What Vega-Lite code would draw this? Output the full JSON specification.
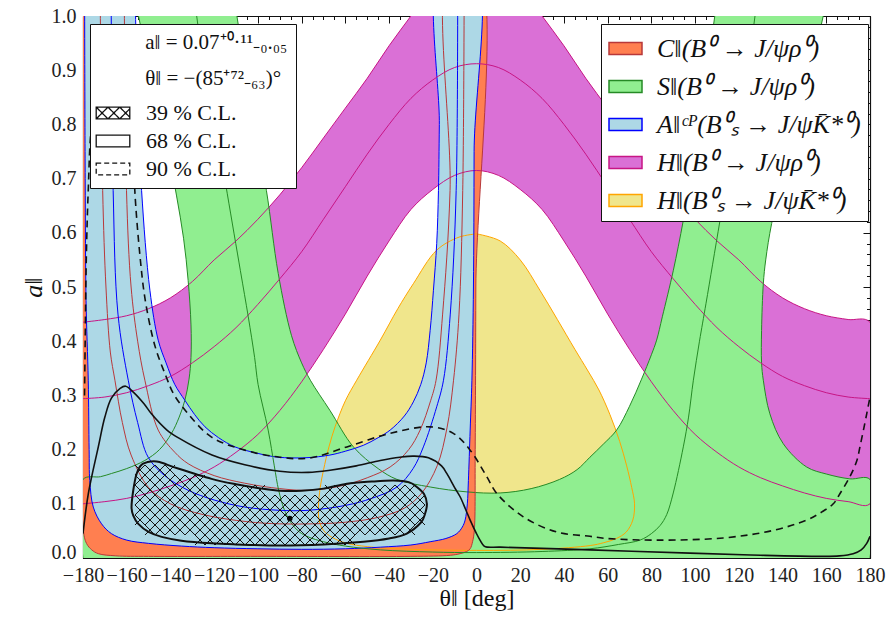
{
"$schema":"https://vega.github.io/schema/vega-lite/v6.json",
"width":787,"height":542,
"autosize":{"type":"none"},
"padding":{"left":83,"top":16,"right":25,"bottom":59},
"background":"white",
"config":{"font":"Liberation Serif","view":{"stroke":null},
"style":{"guide-label":{"font":"Liberation Serif","fontSize":20,"fill":"#222"},"guide-title":{"font":"Liberation Serif","fontSize":24,"fontWeight":"normal","fill":"#111"}},
"axis":{"grid":false,"zindex":1,"domainColor":"#111","tickColor":"#111","labelColor":"#222","labelFont":"Liberation Serif","labelFontSize":20,"titleFont":"Liberation Serif","titleColor":"#111","titleFontWeight":"normal","labelFlush":false,"labelOverlap":false,"domainWidth":1.2,"tickWidth":1}},
"datasets":{
"pH1":[{"i":0,"x":-180,"y":0.435},{"i":1,"x":-170,"y":0.44},{"i":2,"x":-160,"y":0.447},{"i":3,"x":-150,"y":0.46},{"i":4,"x":-140,"y":0.48},{"i":5,"x":-130,"y":0.51},{"i":6,"x":-120,"y":0.55},{"i":7,"x":-110,"y":0.585},{"i":8,"x":-100,"y":0.625},{"i":9,"x":-90,"y":0.67},{"i":10,"x":-80,"y":0.72},{"i":11,"x":-70,"y":0.775},{"i":12,"x":-60,"y":0.83},{"i":13,"x":-50,"y":0.885},{"i":14,"x":-40,"y":0.945},{"i":15,"x":-30,"y":1.0},{"i":16,"x":-20,"y":1.055},{"i":17,"x":-10,"y":1.095},{"i":18,"x":0,"y":1.11},{"i":19,"x":10,"y":1.095},{"i":20,"x":20,"y":1.055},{"i":21,"x":30,"y":1.0},{"i":22,"x":40,"y":0.945},{"i":23,"x":50,"y":0.885},{"i":24,"x":60,"y":0.83},{"i":25,"x":70,"y":0.775},{"i":26,"x":80,"y":0.72},{"i":27,"x":90,"y":0.67},{"i":28,"x":100,"y":0.625},{"i":29,"x":110,"y":0.585},{"i":30,"x":120,"y":0.55},{"i":31,"x":130,"y":0.51},{"i":32,"x":140,"y":0.48},{"i":33,"x":150,"y":0.46},{"i":34,"x":160,"y":0.447},{"i":35,"x":170,"y":0.44},{"i":36,"x":180,"y":0.435},{"i":37,"x":180,"y":0.1},{"i":38,"x":170,"y":0.104},{"i":39,"x":160,"y":0.11},{"i":40,"x":150,"y":0.12},{"i":41,"x":140,"y":0.133},{"i":42,"x":130,"y":0.148},{"i":43,"x":120,"y":0.168},{"i":44,"x":110,"y":0.195},{"i":45,"x":100,"y":0.228},{"i":46,"x":90,"y":0.272},{"i":47,"x":80,"y":0.325},{"i":48,"x":70,"y":0.385},{"i":49,"x":60,"y":0.45},{"i":50,"x":50,"y":0.52},{"i":51,"x":40,"y":0.585},{"i":52,"x":30,"y":0.643},{"i":53,"x":20,"y":0.68},{"i":54,"x":10,"y":0.706},{"i":55,"x":0,"y":0.715},{"i":56,"x":-10,"y":0.706},{"i":57,"x":-20,"y":0.68},{"i":58,"x":-30,"y":0.643},{"i":59,"x":-40,"y":0.585},{"i":60,"x":-50,"y":0.52},{"i":61,"x":-60,"y":0.45},{"i":62,"x":-70,"y":0.385},{"i":63,"x":-80,"y":0.325},{"i":64,"x":-90,"y":0.272},{"i":65,"x":-100,"y":0.228},{"i":66,"x":-110,"y":0.195},{"i":67,"x":-120,"y":0.168},{"i":68,"x":-130,"y":0.148},{"i":69,"x":-140,"y":0.133},{"i":70,"x":-150,"y":0.12},{"i":71,"x":-160,"y":0.11},{"i":72,"x":-170,"y":0.104},{"i":73,"x":-180,"y":0.1}],
"pH2":[{"i":0,"x":0.1,"y":0.598},{"i":1,"x":10.8,"y":0.585},{"i":2,"x":20,"y":0.55},{"i":3,"x":29,"y":0.494},{"i":4,"x":37,"y":0.44},{"i":5,"x":45,"y":0.385},{"i":6,"x":51,"y":0.345},{"i":7,"x":56,"y":0.31},{"i":8,"x":61,"y":0.265},{"i":9,"x":65.5,"y":0.215},{"i":10,"x":68.7,"y":0.17},{"i":11,"x":71,"y":0.13},{"i":12,"x":72.3,"y":0.1},{"i":13,"x":71.5,"y":0.07},{"i":14,"x":68.5,"y":0.048},{"i":15,"x":64,"y":0.036},{"i":16,"x":58,"y":0.028},{"i":17,"x":52,"y":0.023},{"i":18,"x":30,"y":0.016},{"i":19,"x":0,"y":0.014},{"i":20,"x":-36.4,"y":0.017},{"i":21,"x":-50,"y":0.021},{"i":22,"x":-59.3,"y":0.027},{"i":23,"x":-66,"y":0.038},{"i":24,"x":-70,"y":0.051},{"i":25,"x":-72,"y":0.07},{"i":26,"x":-72.3,"y":0.094},{"i":27,"x":-71.5,"y":0.13},{"i":28,"x":-70,"y":0.162},{"i":29,"x":-67.5,"y":0.205},{"i":30,"x":-64.7,"y":0.242},{"i":31,"x":-60,"y":0.29},{"i":32,"x":-54.8,"y":0.328},{"i":33,"x":-44,"y":0.402},{"i":34,"x":-36,"y":0.46},{"i":35,"x":-28.9,"y":0.506},{"i":36,"x":-18.2,"y":0.568},{"i":37,"x":-8,"y":0.592},{"i":38,"x":0.1,"y":0.598}],
"pS":[{"i":0,"x":-180,"y":0},{"i":1,"x":-180,"y":0.145},{"i":2,"x":-172,"y":0.15},{"i":3,"x":-166.9,"y":0.156},{"i":4,"x":-160,"y":0.165},{"i":5,"x":-151.7,"y":0.18},{"i":6,"x":-145,"y":0.2},{"i":7,"x":-139.5,"y":0.23},{"i":8,"x":-136,"y":0.26},{"i":9,"x":-133.4,"y":0.291},{"i":10,"x":-131.5,"y":0.33},{"i":11,"x":-130.6,"y":0.37},{"i":12,"x":-130.6,"y":0.43},{"i":13,"x":-131.9,"y":0.512},{"i":14,"x":-134,"y":0.59},{"i":15,"x":-137.2,"y":0.668},{"i":16,"x":-141,"y":0.75},{"i":17,"x":-146,"y":0.84},{"i":18,"x":-150,"y":0.91},{"i":19,"x":-154.6,"y":1.0},{"i":20,"x":-159.7,"y":1.1},{"i":21,"x":-113.5,"y":1.1},{"i":22,"x":-109.6,"y":1.0},{"i":23,"x":-103,"y":0.83},{"i":24,"x":-96.1,"y":0.678},{"i":25,"x":-90.7,"y":0.525},{"i":26,"x":-84.6,"y":0.41},{"i":27,"x":-80,"y":0.36},{"i":28,"x":-76,"y":0.328},{"i":29,"x":-67,"y":0.272},{"i":30,"x":-56.3,"y":0.205},{"i":31,"x":-45,"y":0.165},{"i":32,"x":-36.4,"y":0.145},{"i":33,"x":-21.2,"y":0.131},{"i":34,"x":-4.4,"y":0.122},{"i":35,"x":10.8,"y":0.12},{"i":36,"x":25,"y":0.128},{"i":37,"x":38,"y":0.145},{"i":38,"x":46,"y":0.163},{"i":39,"x":51.9,"y":0.186},{"i":40,"x":58,"y":0.21},{"i":41,"x":64.1,"y":0.236},{"i":42,"x":70,"y":0.28},{"i":43,"x":75.5,"y":0.33},{"i":44,"x":80,"y":0.375},{"i":45,"x":82.4,"y":0.402},{"i":46,"x":85,"y":0.445},{"i":47,"x":90,"y":0.53},{"i":48,"x":94.6,"y":0.623},{"i":49,"x":100,"y":0.75},{"i":50,"x":105,"y":0.88},{"i":51,"x":109,"y":1.0},{"i":52,"x":113,"y":1.1},{"i":53,"x":164,"y":1.1},{"i":54,"x":158.6,"y":1.0},{"i":55,"x":153,"y":0.9},{"i":56,"x":147,"y":0.81},{"i":57,"x":141,"y":0.72},{"i":58,"x":135,"y":0.617},{"i":59,"x":132.3,"y":0.55},{"i":60,"x":131.2,"y":0.506},{"i":61,"x":130.4,"y":0.42},{"i":62,"x":130.4,"y":0.36},{"i":63,"x":131.2,"y":0.328},{"i":64,"x":134.2,"y":0.266},{"i":65,"x":140.3,"y":0.211},{"i":66,"x":151,"y":0.168},{"i":67,"x":160,"y":0.155},{"i":68,"x":170.8,"y":0.146},{"i":69,"x":180,"y":0.145},{"i":70,"x":180,"y":0}],
"pC":[{"i":0,"x":-180,"y":1.1},{"i":1,"x":-180,"y":0.057},{"i":2,"x":-178.4,"y":0.027},{"i":3,"x":-176,"y":0.015},{"i":4,"x":-173,"y":0.008},{"i":5,"x":-165,"y":0.004},{"i":6,"x":-150,"y":0.003},{"i":7,"x":-100,"y":0.003},{"i":8,"x":-30,"y":0.003},{"i":9,"x":-12,"y":0.005},{"i":10,"x":-7.5,"y":0.008},{"i":11,"x":-4.5,"y":0.012},{"i":12,"x":-2.9,"y":0.017},{"i":13,"x":-1.8,"y":0.03},{"i":14,"x":-1,"y":0.051},{"i":15,"x":-0.6,"y":0.2},{"i":16,"x":-0.3,"y":0.5},{"i":17,"x":0.1,"y":1.1},{"i":18,"x":-11.8,"y":1.1},{"i":19,"x":-12.1,"y":0.678},{"i":20,"x":-15.5,"y":0.45},{"i":21,"x":-18.5,"y":0.328},{"i":22,"x":-21,"y":0.29},{"i":23,"x":-25.8,"y":0.236},{"i":24,"x":-31,"y":0.2},{"i":25,"x":-39.5,"y":0.168},{"i":26,"x":-50,"y":0.148},{"i":27,"x":-62,"y":0.133},{"i":28,"x":-77,"y":0.125},{"i":29,"x":-90,"y":0.128},{"i":30,"x":-106,"y":0.138},{"i":31,"x":-120,"y":0.152},{"i":32,"x":-131.9,"y":0.174},{"i":33,"x":-138,"y":0.195},{"i":34,"x":-145.6,"y":0.236},{"i":35,"x":-151.7,"y":0.328},{"i":36,"x":-155,"y":0.4},{"i":37,"x":-158,"y":0.5},{"i":38,"x":-160.1,"y":0.678},{"i":39,"x":-161.2,"y":1.1}],
"pA":[{"i":0,"x":-179.3,"y":1.1},{"i":1,"x":-179,"y":0.7},{"i":2,"x":-178.6,"y":0.475},{"i":3,"x":-177.6,"y":0.328},{"i":4,"x":-177.2,"y":0.2},{"i":5,"x":-176.9,"y":0.143},{"i":6,"x":-175.3,"y":0.094},{"i":7,"x":-171.5,"y":0.063},{"i":8,"x":-167,"y":0.045},{"i":9,"x":-160,"y":0.033},{"i":10,"x":-150,"y":0.027},{"i":11,"x":-135,"y":0.022},{"i":12,"x":-120,"y":0.019},{"i":13,"x":-100,"y":0.017},{"i":14,"x":-80,"y":0.016},{"i":15,"x":-60,"y":0.017},{"i":16,"x":-44,"y":0.02},{"i":17,"x":-30,"y":0.024},{"i":18,"x":-21.2,"y":0.03},{"i":19,"x":-14,"y":0.036},{"i":20,"x":-9,"y":0.045},{"i":21,"x":-6.5,"y":0.057},{"i":22,"x":-5.2,"y":0.07},{"i":23,"x":-4.2,"y":0.1},{"i":24,"x":-3.7,"y":0.143},{"i":25,"x":-2.9,"y":0.236},{"i":26,"x":-2.1,"y":0.328},{"i":27,"x":-1.4,"y":0.5},{"i":28,"x":-1.1,"y":0.75},{"i":29,"x":-1.0,"y":1.1},{"i":30,"x":-16.2,"y":1.1},{"i":31,"x":-17.0,"y":0.8},{"i":32,"x":-17.4,"y":0.678},{"i":33,"x":-18.2,"y":0.58},{"i":34,"x":-19.7,"y":0.494},{"i":35,"x":-21.2,"y":0.42},{"i":36,"x":-23,"y":0.36},{"i":37,"x":-25.5,"y":0.32},{"i":38,"x":-28.9,"y":0.288},{"i":39,"x":-33,"y":0.262},{"i":40,"x":-39.5,"y":0.236},{"i":41,"x":-45,"y":0.222},{"i":42,"x":-51.7,"y":0.208},{"i":43,"x":-60,"y":0.197},{"i":44,"x":-67,"y":0.19},{"i":45,"x":-78,"y":0.185},{"i":46,"x":-90.8,"y":0.186},{"i":47,"x":-100,"y":0.193},{"i":48,"x":-110.5,"y":0.205},{"i":49,"x":-118,"y":0.222},{"i":50,"x":-124.2,"y":0.242},{"i":51,"x":-129,"y":0.265},{"i":52,"x":-133.4,"y":0.291},{"i":53,"x":-138,"y":0.32},{"i":54,"x":-142,"y":0.36},{"i":55,"x":-145.6,"y":0.402},{"i":56,"x":-149.4,"y":0.494},{"i":57,"x":-153.2,"y":0.678},{"i":58,"x":-155,"y":0.85},{"i":59,"x":-156.5,"y":1.1}],
"cH1":[{"i":0,"x":-180,"y":0.294},{"i":1,"x":-170,"y":0.297},{"i":2,"x":-160,"y":0.305},{"i":3,"x":-150,"y":0.318},{"i":4,"x":-140,"y":0.335},{"i":5,"x":-130,"y":0.36},{"i":6,"x":-120,"y":0.39},{"i":7,"x":-110,"y":0.425},{"i":8,"x":-100,"y":0.468},{"i":9,"x":-90,"y":0.515},{"i":10,"x":-80,"y":0.565},{"i":11,"x":-70,"y":0.625},{"i":12,"x":-60,"y":0.685},{"i":13,"x":-50,"y":0.745},{"i":14,"x":-40,"y":0.8},{"i":15,"x":-30,"y":0.848},{"i":16,"x":-20,"y":0.882},{"i":17,"x":-10,"y":0.905},{"i":18,"x":0,"y":0.912},{"i":19,"x":10,"y":0.905},{"i":20,"x":20,"y":0.882},{"i":21,"x":30,"y":0.848},{"i":22,"x":40,"y":0.8},{"i":23,"x":50,"y":0.745},{"i":24,"x":60,"y":0.685},{"i":25,"x":70,"y":0.625},{"i":26,"x":80,"y":0.565},{"i":27,"x":90,"y":0.515},{"i":28,"x":100,"y":0.468},{"i":29,"x":110,"y":0.425},{"i":30,"x":120,"y":0.39},{"i":31,"x":130,"y":0.36},{"i":32,"x":140,"y":0.335},{"i":33,"x":150,"y":0.318},{"i":34,"x":160,"y":0.305},{"i":35,"x":170,"y":0.297},{"i":36,"x":180,"y":0.294}],
"cS":[{"i":0,"x":-129.5,"y":1.1},{"i":1,"x":-128,"y":1.0},{"i":2,"x":-121,"y":0.84},{"i":3,"x":-114,"y":0.672},{"i":4,"x":-108,"y":0.53},{"i":5,"x":-104.4,"y":0.445},{"i":6,"x":-101.5,"y":0.37},{"i":7,"x":-99.9,"y":0.32},{"i":8,"x":-95.3,"y":0.236},{"i":9,"x":-92.5,"y":0.17},{"i":10,"x":-90.5,"y":0.125},{"i":11,"x":-88,"y":0.09},{"i":12,"x":-85,"y":0.066},{"i":13,"x":-81,"y":0.048},{"i":14,"x":-77,"y":0.039},{"i":15,"x":-70,"y":0.03},{"i":16,"x":-60,"y":0.022},{"i":17,"x":-44,"y":0.015},{"i":18,"x":-20,"y":0.011},{"i":19,"x":0,"y":0.01},{"i":20,"x":30,"y":0.012},{"i":21,"x":51.9,"y":0.017},{"i":22,"x":65,"y":0.025},{"i":23,"x":74.8,"y":0.033},{"i":24,"x":80,"y":0.045},{"i":25,"x":84,"y":0.06},{"i":26,"x":87,"y":0.08},{"i":27,"x":90,"y":0.12},{"i":28,"x":94.6,"y":0.205},{"i":29,"x":97,"y":0.26},{"i":30,"x":99.2,"y":0.328},{"i":31,"x":102,"y":0.4},{"i":32,"x":105,"y":0.47},{"i":33,"x":111.4,"y":0.623},{"i":34,"x":119,"y":0.8},{"i":35,"x":127.4,"y":1.0},{"i":36,"x":129,"y":1.1}],
"cA":[{"i":0,"x":-167.2,"y":1.1},{"i":1,"x":-166.2,"y":0.678},{"i":2,"x":-164,"y":0.45},{"i":3,"x":-159.3,"y":0.328},{"i":4,"x":-155,"y":0.25},{"i":5,"x":-150.2,"y":0.186},{"i":6,"x":-142,"y":0.15},{"i":7,"x":-131.9,"y":0.125},{"i":8,"x":-120,"y":0.107},{"i":9,"x":-106,"y":0.094},{"i":10,"x":-90,"y":0.088},{"i":11,"x":-77,"y":0.088},{"i":12,"x":-60,"y":0.097},{"i":13,"x":-48,"y":0.11},{"i":14,"x":-36.4,"y":0.131},{"i":15,"x":-29,"y":0.165},{"i":16,"x":-24.3,"y":0.205},{"i":17,"x":-18.2,"y":0.279},{"i":18,"x":-15.1,"y":0.328},{"i":19,"x":-12,"y":0.45},{"i":20,"x":-9.3,"y":0.678},{"i":21,"x":-8.6,"y":1.1}],
"cC":[{"i":0,"x":-172.3,"y":1.1},{"i":1,"x":-171,"y":0.678},{"i":2,"x":-169.5,"y":0.5},{"i":3,"x":-167.5,"y":0.38},{"i":4,"x":-165.4,"y":0.328},{"i":5,"x":-162,"y":0.25},{"i":6,"x":-158,"y":0.19},{"i":7,"x":-150,"y":0.13},{"i":8,"x":-140,"y":0.1},{"i":9,"x":-125,"y":0.08},{"i":10,"x":-105,"y":0.067},{"i":11,"x":-90,"y":0.063},{"i":12,"x":-75,"y":0.063},{"i":13,"x":-60,"y":0.066},{"i":14,"x":-45,"y":0.075},{"i":15,"x":-33,"y":0.092},{"i":16,"x":-25,"y":0.12},{"i":17,"x":-18,"y":0.17},{"i":18,"x":-13.5,"y":0.24},{"i":19,"x":-10.5,"y":0.328},{"i":20,"x":-8,"y":0.45},{"i":21,"x":-6.3,"y":0.678},{"i":22,"x":-5.6,"y":1.1}],
"k68":[{"i":0,"x":-180,"y":0.045},{"i":1,"x":-177.5,"y":0.12},{"i":2,"x":-173,"y":0.205},{"i":3,"x":-170,"y":0.26},{"i":4,"x":-167,"y":0.295},{"i":5,"x":-163,"y":0.313},{"i":6,"x":-160.5,"y":0.317},{"i":7,"x":-157,"y":0.306},{"i":8,"x":-152,"y":0.284},{"i":9,"x":-148.7,"y":0.266},{"i":10,"x":-141.6,"y":0.236},{"i":11,"x":-136.5,"y":0.222},{"i":12,"x":-121,"y":0.19},{"i":13,"x":-106,"y":0.172},{"i":14,"x":-90,"y":0.16},{"i":15,"x":-77,"y":0.158},{"i":16,"x":-67,"y":0.162},{"i":17,"x":-55,"y":0.17},{"i":18,"x":-44,"y":0.18},{"i":19,"x":-35,"y":0.186},{"i":20,"x":-28.9,"y":0.188},{"i":21,"x":-22,"y":0.185},{"i":22,"x":-16,"y":0.17},{"i":23,"x":-13.6,"y":0.156},{"i":24,"x":-10,"y":0.13},{"i":25,"x":-7.5,"y":0.113},{"i":26,"x":-5,"y":0.09},{"i":27,"x":-2.9,"y":0.07},{"i":28,"x":0,"y":0.045},{"i":29,"x":1.6,"y":0.033},{"i":30,"x":3.5,"y":0.022},{"i":31,"x":5,"y":0.02},{"i":32,"x":10.8,"y":0.02},{"i":33,"x":51.9,"y":0.015},{"i":34,"x":97.6,"y":0.009},{"i":35,"x":130,"y":0.005},{"i":36,"x":158.6,"y":0.003},{"i":37,"x":166,"y":0.004},{"i":38,"x":172.3,"y":0.008},{"i":39,"x":176,"y":0.015},{"i":40,"x":178.5,"y":0.027},{"i":41,"x":180,"y":0.04}],
"k90":[{"i":0,"x":-179.3,"y":0.3},{"i":1,"x":-179,"y":0.4},{"i":2,"x":-178.5,"y":0.55},{"i":3,"x":-177.6,"y":0.678},{"i":4,"x":-176,"y":0.8},{"i":5,"x":-172,"y":0.88},{"i":6,"x":-165,"y":0.9},{"i":7,"x":-159,"y":0.85},{"i":8,"x":-157,"y":0.77},{"i":9,"x":-156.3,"y":0.678},{"i":10,"x":-154,"y":0.56},{"i":11,"x":-151.5,"y":0.475},{"i":12,"x":-147,"y":0.39},{"i":13,"x":-142,"y":0.335},{"i":14,"x":-138.6,"y":0.303},{"i":15,"x":-131.9,"y":0.266},{"i":16,"x":-121.2,"y":0.223},{"i":17,"x":-106,"y":0.199},{"i":18,"x":-90,"y":0.186},{"i":19,"x":-77,"y":0.184},{"i":20,"x":-59.3,"y":0.205},{"i":21,"x":-39.5,"y":0.23},{"i":22,"x":-21.2,"y":0.242},{"i":23,"x":-10.6,"y":0.23},{"i":24,"x":-2.9,"y":0.199},{"i":25,"x":4.7,"y":0.15},{"i":26,"x":9.3,"y":0.119},{"i":27,"x":21.4,"y":0.076},{"i":28,"x":36.7,"y":0.048},{"i":29,"x":51.9,"y":0.04},{"i":30,"x":59.6,"y":0.036},{"i":31,"x":82.4,"y":0.033},{"i":32,"x":112.9,"y":0.037},{"i":33,"x":135.8,"y":0.051},{"i":34,"x":151,"y":0.07},{"i":35,"x":158,"y":0.085},{"i":36,"x":163.2,"y":0.1},{"i":37,"x":166.3,"y":0.119},{"i":38,"x":170.8,"y":0.15},{"i":39,"x":174,"y":0.18},{"i":40,"x":175.4,"y":0.205},{"i":41,"x":178.5,"y":0.266},{"i":42,"x":180,"y":0.297}],
"k39":[{"i":0,"x":-157.8,"y":0.094},{"i":1,"x":-157,"y":0.125},{"i":2,"x":-155.5,"y":0.155},{"i":3,"x":-153.2,"y":0.172},{"i":4,"x":-149,"y":0.178},{"i":5,"x":-145,"y":0.177},{"i":6,"x":-136.5,"y":0.165},{"i":7,"x":-121.2,"y":0.146},{"i":8,"x":-110,"y":0.136},{"i":9,"x":-98.3,"y":0.128},{"i":10,"x":-89.8,"y":0.124},{"i":11,"x":-80,"y":0.124},{"i":12,"x":-70,"y":0.128},{"i":13,"x":-59.3,"y":0.137},{"i":14,"x":-48,"y":0.141},{"i":15,"x":-38,"y":0.143},{"i":16,"x":-31,"y":0.14},{"i":17,"x":-27.3,"y":0.131},{"i":18,"x":-24,"y":0.118},{"i":19,"x":-22.7,"y":0.1},{"i":20,"x":-23.5,"y":0.082},{"i":21,"x":-25.5,"y":0.065},{"i":22,"x":-31.9,"y":0.045},{"i":23,"x":-40,"y":0.036},{"i":24,"x":-51.7,"y":0.03},{"i":25,"x":-70,"y":0.025},{"i":26,"x":-89.8,"y":0.023},{"i":27,"x":-110,"y":0.025},{"i":28,"x":-121.2,"y":0.027},{"i":29,"x":-135,"y":0.032},{"i":30,"x":-144,"y":0.039},{"i":31,"x":-150,"y":0.048},{"i":32,"x":-154.7,"y":0.063},{"i":33,"x":-157,"y":0.078}],
"hatch":[
{"x":-153.93,"y":0.1624},{"x":-153.93,"y":0.1439},{"x":-153.93,"y":0.1255},{"x":-153.93,"y":0.107},{"x":-153.93,"y":0.0886},{"x":-153.93,"y":0.0701},
{"x":-149.35,"y":0.1624},{"x":-149.35,"y":0.1439},{"x":-149.35,"y":0.1255},{"x":-149.35,"y":0.107},{"x":-149.35,"y":0.0886},{"x":-149.35,"y":0.0701},{"x":-149.35,"y":0.0517},
{"x":-144.78,"y":0.1624},{"x":-144.78,"y":0.1439},{"x":-144.78,"y":0.1255},{"x":-144.78,"y":0.107},{"x":-144.78,"y":0.0886},{"x":-144.78,"y":0.0701},{"x":-144.78,"y":0.0517},
{"x":-140.2,"y":0.1624},{"x":-140.2,"y":0.1439},{"x":-140.2,"y":0.1255},{"x":-140.2,"y":0.107},{"x":-140.2,"y":0.0886},{"x":-140.2,"y":0.0701},{"x":-140.2,"y":0.0517},
{"x":-135.63,"y":0.1439},{"x":-135.63,"y":0.1255},{"x":-135.63,"y":0.107},{"x":-135.63,"y":0.0886},{"x":-135.63,"y":0.0701},{"x":-135.63,"y":0.0517},
{"x":-131.05,"y":0.1439},{"x":-131.05,"y":0.1255},{"x":-131.05,"y":0.107},{"x":-131.05,"y":0.0886},{"x":-131.05,"y":0.0701},{"x":-131.05,"y":0.0517},
{"x":-126.48,"y":0.1439},{"x":-126.48,"y":0.1255},{"x":-126.48,"y":0.107},{"x":-126.48,"y":0.0886},{"x":-126.48,"y":0.0701},{"x":-126.48,"y":0.0517},{"x":-126.48,"y":0.0332},
{"x":-121.91,"y":0.1255},{"x":-121.91,"y":0.107},{"x":-121.91,"y":0.0886},{"x":-121.91,"y":0.0701},{"x":-121.91,"y":0.0517},{"x":-121.91,"y":0.0332},
{"x":-117.33,"y":0.1255},{"x":-117.33,"y":0.107},{"x":-117.33,"y":0.0886},{"x":-117.33,"y":0.0701},{"x":-117.33,"y":0.0517},{"x":-117.33,"y":0.0332},
{"x":-112.76,"y":0.1255},{"x":-112.76,"y":0.107},{"x":-112.76,"y":0.0886},{"x":-112.76,"y":0.0701},{"x":-112.76,"y":0.0517},{"x":-112.76,"y":0.0332},
{"x":-108.18,"y":0.1255},{"x":-108.18,"y":0.107},{"x":-108.18,"y":0.0886},{"x":-108.18,"y":0.0701},{"x":-108.18,"y":0.0517},{"x":-108.18,"y":0.0332},
{"x":-103.61,"y":0.1255},{"x":-103.61,"y":0.107},{"x":-103.61,"y":0.0886},{"x":-103.61,"y":0.0701},{"x":-103.61,"y":0.0517},{"x":-103.61,"y":0.0332},
{"x":-99.03,"y":0.1255},{"x":-99.03,"y":0.107},{"x":-99.03,"y":0.0886},{"x":-99.03,"y":0.0701},{"x":-99.03,"y":0.0517},{"x":-99.03,"y":0.0332},
{"x":-94.46,"y":0.107},{"x":-94.46,"y":0.0886},{"x":-94.46,"y":0.0701},{"x":-94.46,"y":0.0517},{"x":-94.46,"y":0.0332},
{"x":-89.89,"y":0.107},{"x":-89.89,"y":0.0886},{"x":-89.89,"y":0.0701},{"x":-89.89,"y":0.0517},{"x":-89.89,"y":0.0332},
{"x":-85.31,"y":0.107},{"x":-85.31,"y":0.0886},{"x":-85.31,"y":0.0701},{"x":-85.31,"y":0.0517},{"x":-85.31,"y":0.0332},
{"x":-80.74,"y":0.107},{"x":-80.74,"y":0.0886},{"x":-80.74,"y":0.0701},{"x":-80.74,"y":0.0517},{"x":-80.74,"y":0.0332},
{"x":-76.16,"y":0.107},{"x":-76.16,"y":0.0886},{"x":-76.16,"y":0.0701},{"x":-76.16,"y":0.0517},{"x":-76.16,"y":0.0332},
{"x":-71.59,"y":0.107},{"x":-71.59,"y":0.0886},{"x":-71.59,"y":0.0701},{"x":-71.59,"y":0.0517},{"x":-71.59,"y":0.0332},
{"x":-67.01,"y":0.1255},{"x":-67.01,"y":0.107},{"x":-67.01,"y":0.0886},{"x":-67.01,"y":0.0701},{"x":-67.01,"y":0.0517},{"x":-67.01,"y":0.0332},
{"x":-62.44,"y":0.1255},{"x":-62.44,"y":0.107},{"x":-62.44,"y":0.0886},{"x":-62.44,"y":0.0701},{"x":-62.44,"y":0.0517},{"x":-62.44,"y":0.0332},
{"x":-57.87,"y":0.1255},{"x":-57.87,"y":0.107},{"x":-57.87,"y":0.0886},{"x":-57.87,"y":0.0701},{"x":-57.87,"y":0.0517},{"x":-57.87,"y":0.0332},
{"x":-53.29,"y":0.1255},{"x":-53.29,"y":0.107},{"x":-53.29,"y":0.0886},{"x":-53.29,"y":0.0701},{"x":-53.29,"y":0.0517},
{"x":-48.72,"y":0.1255},{"x":-48.72,"y":0.107},{"x":-48.72,"y":0.0886},{"x":-48.72,"y":0.0701},{"x":-48.72,"y":0.0517},
{"x":-44.14,"y":0.1255},{"x":-44.14,"y":0.107},{"x":-44.14,"y":0.0886},{"x":-44.14,"y":0.0701},{"x":-44.14,"y":0.0517},
{"x":-39.57,"y":0.1255},{"x":-39.57,"y":0.107},{"x":-39.57,"y":0.0886},{"x":-39.57,"y":0.0701},{"x":-39.57,"y":0.0517},
{"x":-34.99,"y":0.1255},{"x":-34.99,"y":0.107},{"x":-34.99,"y":0.0886},{"x":-34.99,"y":0.0701},{"x":-34.99,"y":0.0517},
{"x":-30.42,"y":0.1255},{"x":-30.42,"y":0.107},{"x":-30.42,"y":0.0886},{"x":-30.42,"y":0.0701},{"x":-30.42,"y":0.0517},
{"x":-25.85,"y":0.107},{"x":-25.85,"y":0.0886},{"x":-25.85,"y":0.0701}],
"best":[{"x":-85.4,"y":0.073}],
"legR":[{"lbl":"C‖(B⁰ → J/ψρ⁰)"},{"lbl":"S‖(B⁰ → J/ψρ⁰)"},{"lbl":"A‖ᶜᴾ(B⁰ₛ → J/ψK̄*⁰)"},{"lbl":"H‖(B⁰ → J/ψρ⁰)"},{"lbl":"H‖(B⁰ₛ → J/ψK̄*⁰)"}],
"legL":[{"cl":"39 % C.L."},{"cl":"68 % C.L."},{"cl":"90 % C.L."}]
},
"encoding":{
"x":{"field":"x","type":"quantitative","scale":{"domain":[-180,180],"nice":false,"zero":false},"axis":null},
"y":{"field":"y","type":"quantitative","scale":{"domain":[0,1],"nice":false,"zero":false},"axis":null},
"order":{"field":"i","type":"quantitative"}
},
"resolve":{"axis":{"x":"independent","y":"independent"}},
"layer":[
{"data":{"name":"pH1"},"mark":{"type":"line","fill":"#DA70D6","stroke":"transparent","strokeWidth":0,"interpolate":"catmull-rom","clip":true},
"encoding":{
"x":{"field":"x","type":"quantitative","scale":{"domain":[-180,180],"nice":false,"zero":false},"axis":{"orient":"bottom","values":[-180,-160,-140,-120,-100,-80,-60,-40,-20,0,20,40,60,80,100,120,140,160,180],"tickSize":-7,"labelPadding":14,"labelFont":"Liberation Serif","labelFontSize":20,"labelColor":"#222","labelExpr":"replace(format(datum.value,'d'),'-','−')","title":"θ‖ [deg]","titleFont":"Liberation Serif","titleFontSize":24,"titleFontWeight":"normal","titlePadding":1,"domain":true}},
"y":{"field":"y","type":"quantitative","scale":{"domain":[0,1],"nice":false,"zero":false},"axis":{"orient":"left","values":[0,0.1,0.2,0.3,0.4,0.5,0.6,0.7,0.8,0.9,1],"format":".1f","tickSize":-7,"labelPadding":14,"labelBaseline":{"condition":{"test":"datum.value === 0","value":"alphabetic"},"value":"middle"},"labelFont":"Liberation Serif","labelFontSize":20,"labelColor":"#222","title":"a‖","titleFont":"Liberation Serif","titleFontSize":26,"titleFontWeight":"normal","titleFontStyle":"italic","titlePadding":5,"domain":true}}}},
{"data":{"name":"pH2"},"mark":{"type":"line","fill":"#F0E68C","stroke":"transparent","strokeWidth":0,"interpolate":"catmull-rom","clip":true},
"encoding":{
"x":{"field":"x","type":"quantitative","scale":{"domain":[-180,180],"nice":false,"zero":false},"axis":{"orient":"bottom","values":[-180,-175,-170,-165,-160,-155,-150,-145,-140,-135,-130,-125,-120,-115,-110,-105,-100,-95,-90,-85,-80,-75,-70,-65,-60,-55,-50,-45,-40,-35,-30,-25,-20,-15,-10,-5,0,5,10,15,20,25,30,35,40,45,50,55,60,65,70,75,80,85,90,95,100,105,110,115,120,125,130,135,140,145,150,155,160,165,170,175,180],"tickSize":-3.5,"labels":false,"domain":false,"title":null}},
"y":{"field":"y","type":"quantitative","scale":{"domain":[0,1],"nice":false,"zero":false},"axis":{"orient":"left","values":[0,0.02,0.04,0.06,0.08,0.1,0.12,0.14,0.16,0.18,0.2,0.22,0.24,0.26,0.28,0.3,0.32,0.34,0.36,0.38,0.4,0.42,0.44,0.46,0.48,0.5,0.52,0.54,0.56,0.58,0.6,0.62,0.64,0.66,0.68,0.7,0.72,0.74,0.76,0.78,0.8,0.82,0.84,0.86,0.88,0.9,0.92,0.94,0.96,0.98,1],"tickSize":-3.5,"labels":false,"domain":false,"title":null}}}},
{"data":{"name":"pS"},"mark":{"type":"line","fill":"#90EE90","stroke":"transparent","strokeWidth":0,"interpolate":"catmull-rom","clip":true},
"encoding":{
"x":{"field":"x","type":"quantitative","scale":{"domain":[-180,180],"nice":false,"zero":false},"axis":{"orient":"top","values":[-180,-160,-140,-120,-100,-80,-60,-40,-20,0,20,40,60,80,100,120,140,160,180],"tickSize":-7,"labels":false,"domain":true,"title":null}},
"y":{"field":"y","type":"quantitative","scale":{"domain":[0,1],"nice":false,"zero":false},"axis":{"orient":"right","values":[0,0.1,0.2,0.3,0.4,0.5,0.6,0.7,0.8,0.9,1],"tickSize":-7,"labels":false,"domain":true,"title":null}}}},
{"data":{"name":"pC"},"mark":{"type":"line","fill":"#FF7F50","stroke":"transparent","strokeWidth":0,"interpolate":"catmull-rom","clip":true},
"encoding":{
"x":{"field":"x","type":"quantitative","scale":{"domain":[-180,180],"nice":false,"zero":false},"axis":{"orient":"top","values":[-180,-175,-170,-165,-160,-155,-150,-145,-140,-135,-130,-125,-120,-115,-110,-105,-100,-95,-90,-85,-80,-75,-70,-65,-60,-55,-50,-45,-40,-35,-30,-25,-20,-15,-10,-5,0,5,10,15,20,25,30,35,40,45,50,55,60,65,70,75,80,85,90,95,100,105,110,115,120,125,130,135,140,145,150,155,160,165,170,175,180],"tickSize":-3.5,"labels":false,"domain":false,"title":null}},
"y":{"field":"y","type":"quantitative","scale":{"domain":[0,1],"nice":false,"zero":false},"axis":{"orient":"right","values":[0,0.02,0.04,0.06,0.08,0.1,0.12,0.14,0.16,0.18,0.2,0.22,0.24,0.26,0.28,0.3,0.32,0.34,0.36,0.38,0.4,0.42,0.44,0.46,0.48,0.5,0.52,0.54,0.56,0.58,0.6,0.62,0.64,0.66,0.68,0.7,0.72,0.74,0.76,0.78,0.8,0.82,0.84,0.86,0.88,0.9,0.92,0.94,0.96,0.98,1],"tickSize":-3.5,"labels":false,"domain":false,"title":null}}}},
{"data":{"name":"pA"},"mark":{"type":"line","fill":"#ADD8E6","stroke":"transparent","strokeWidth":0,"interpolate":"catmull-rom","clip":true}},
{"data":{"name":"pH1"},"mark":{"type":"line","stroke":"#C71585","strokeWidth":1,"interpolate":"catmull-rom","clip":true}},
{"data":{"name":"pH2"},"mark":{"type":"line","stroke":"#FFA500","strokeWidth":1,"interpolate":"catmull-rom","clip":true}},
{"data":{"name":"pS"},"mark":{"type":"line","stroke":"#258A25","strokeWidth":1,"interpolate":"catmull-rom","clip":true}},
{"data":{"name":"pC"},"mark":{"type":"line","stroke":"#B8383A","strokeWidth":1,"interpolate":"catmull-rom","clip":true}},
{"data":{"name":"pA"},"mark":{"type":"line","stroke":"#0000FF","strokeWidth":1,"interpolate":"catmull-rom","clip":true}},
{"data":{"name":"cH1"},"mark":{"type":"line","stroke":"#C71585","strokeWidth":1,"interpolate":"catmull-rom","clip":true}},
{"data":{"name":"cS"},"mark":{"type":"line","stroke":"#258A25","strokeWidth":1,"interpolate":"catmull-rom","clip":true}},
{"data":{"name":"cA"},"mark":{"type":"line","stroke":"#0000FF","strokeWidth":1,"interpolate":"catmull-rom","clip":true}},
{"data":{"name":"cC"},"mark":{"type":"line","stroke":"#B8383A","strokeWidth":1,"interpolate":"catmull-rom","clip":true}},
{"data":{"name":"hatch"},"mark":{"type":"point","shape":"M-1,-1L1,1M-1,1L1,-1","size":100,"filled":false,"stroke":"#111","strokeWidth":1,"opacity":1,"clip":true},"encoding":{"order":null}},
{"data":{"name":"k39"},"mark":{"type":"line","stroke":"#111","strokeWidth":2,"interpolate":"cardinal-closed","clip":true}},
{"data":{"name":"k68"},"mark":{"type":"line","stroke":"#111","strokeWidth":1.6,"interpolate":"catmull-rom","clip":true}},
{"data":{"name":"k90"},"mark":{"type":"line","stroke":"#111","strokeWidth":1.6,"strokeDash":[7,5],"interpolate":"catmull-rom","clip":true}},
{"data":{"name":"best"},"mark":{"type":"point","shape":"circle","size":30,"filled":true,"color":"#000","opacity":1},"encoding":{"order":null}},
{"data":{"values":[{}]},"mark":{"type":"text","text":["LHCb","preliminary"],"font":"Liberation Serif","fontSize":31,"fontWeight":"bold","align":"left","baseline":"alphabetic","lineHeight":35,"color":"#000"},
"encoding":{"order":null,"x":{"datum":-80.5,"type":"quantitative","scale":{"domain":[-180,180],"nice":false,"zero":false},"axis":null},"y":{"datum":0.942,"type":"quantitative","scale":{"domain":[0,1],"nice":false,"zero":false},"axis":null}}},
{"data":{"name":"legR"},"mark":{"type":"point","shape":"M-1,-0.36H1V0.36H-1Z","filled":true,"size":1089,"opacity":1,"strokeWidth":1.5,"clip":true},
"encoding":{"order":null,
"x":{"datum":-400,"type":"quantitative","scale":{"domain":[-180,180],"nice":false,"zero":false},"axis":null},
"y":{"datum":0.5,"type":"quantitative","scale":{"domain":[0,1],"nice":false,"zero":false},"axis":null},
"fill":{"field":"lbl","type":"nominal","scale":{"domain":["C‖(B⁰ → J/ψρ⁰)","S‖(B⁰ → J/ψρ⁰)","A‖ᶜᴾ(B⁰ₛ → J/ψK̄*⁰)","H‖(B⁰ → J/ψρ⁰)","H‖(B⁰ₛ → J/ψK̄*⁰)"],"range":["#FF7F50","#90EE90","#ADD8E6","#DA70D6","#F0E68C"]},
"legend":{"title":null,"orient":"none","legendX":518,"legendY":8,"direction":"vertical","padding":7,"fillColor":"white","strokeColor":"#111","cornerRadius":0,"symbolType":"M-1,-0.36H1V0.36H-1Z","symbolSize":1089,"symbolStrokeWidth":1.5,"symbolOpacity":1,"labelFont":"Liberation Serif","labelFontSize":26,"labelFontStyle":"italic","labelColor":"#111","labelOffset":14,"labelLimit":400,"rowPadding":7}},
"stroke":{"field":"lbl","type":"nominal","scale":{"domain":["C‖(B⁰ → J/ψρ⁰)","S‖(B⁰ → J/ψρ⁰)","A‖ᶜᴾ(B⁰ₛ → J/ψK̄*⁰)","H‖(B⁰ → J/ψρ⁰)","H‖(B⁰ₛ → J/ψK̄*⁰)"],"range":["#B8383A","#258A25","#0000FF","#C71585","#FFA500"]},
"legend":{"title":null,"orient":"none","legendX":518,"legendY":8,"direction":"vertical","padding":7,"fillColor":"white","strokeColor":"#111","cornerRadius":0,"symbolType":"M-1,-0.36H1V0.36H-1Z","symbolSize":1089,"symbolStrokeWidth":1.5,"symbolOpacity":1,"labelFont":"Liberation Serif","labelFontSize":26,"labelFontStyle":"italic","labelColor":"#111","labelOffset":14,"labelLimit":400,"rowPadding":7}}}},
{"data":{"name":"legL"},"mark":{"type":"point","filled":false,"stroke":"#111","size":784,"opacity":1,"strokeWidth":1.3,"clip":true},
"encoding":{"order":null,
"x":{"datum":-400,"type":"quantitative","scale":{"domain":[-180,180],"nice":false,"zero":false},"axis":null},
"y":{"datum":0.5,"type":"quantitative","scale":{"domain":[0,1],"nice":false,"zero":false},"axis":null},
"shape":{"field":"cl","type":"nominal","scale":{"domain":["39 % C.L.","68 % C.L.","90 % C.L."],"range":["M-1.2,-0.42H1.2V0.42H-1.2Z M-1.2,-0.42L-0.36,0.42M-0.36,-0.42L0.48,0.42M0.48,-0.42L1.2,0.3M-1.2,0.42L-0.36,-0.42M-0.36,0.42L0.48,-0.42M0.48,0.42L1.2,-0.3","M-1.2,-0.42H1.2V0.42H-1.2Z","M-1.2,-0.42H1.2V0.42H-1.2Z"]},
"legend":{"title":["\u200b\u00a0\u00a0\u00a0\u00a0\u00a0\u00a0\u00a0\u00a0\u00a0a‖ = 0.07⁺⁰·¹¹₋₀.₀₅","\u200b\u00a0\u00a0\u00a0\u00a0\u00a0\u00a0\u00a0\u00a0\u00a0θ‖ = −(85⁺⁷²₋₆₃)°"],"orient":"none","legendX":7,"legendY":8,"direction":"vertical","padding":8,"fillColor":"white","strokeColor":"#111","cornerRadius":0,"symbolSize":784,"symbolStrokeColor":"#111","symbolStrokeWidth":1.3,"symbolFillColor":"transparent","symbolOpacity":1,"labelFont":"Liberation Serif","labelFontSize":22,"labelColor":"#111","labelOffset":18,"labelLimit":300,"rowPadding":2,"titleFont":"Liberation Serif","titleFontSize":21,"titleFontWeight":"normal","titleColor":"#111","titleLineHeight":36,"titlePadding":9,"titleLimit":400}},
"strokeDash":{"field":"cl","type":"nominal","scale":{"domain":["39 % C.L.","68 % C.L.","90 % C.L."],"range":[[1,0],[1,0],[5,3]]},
"legend":{"title":["\u200b\u00a0\u00a0\u00a0\u00a0\u00a0\u00a0\u00a0\u00a0\u00a0a‖ = 0.07⁺⁰·¹¹₋₀.₀₅","\u200b\u00a0\u00a0\u00a0\u00a0\u00a0\u00a0\u00a0\u00a0\u00a0θ‖ = −(85⁺⁷²₋₆₃)°"],"orient":"none","legendX":7,"legendY":8,"direction":"vertical","padding":8,"fillColor":"white","strokeColor":"#111","cornerRadius":0,"symbolSize":784,"symbolStrokeColor":"#111","symbolStrokeWidth":1.3,"symbolFillColor":"transparent","symbolOpacity":1,"labelFont":"Liberation Serif","labelFontSize":22,"labelColor":"#111","labelOffset":18,"labelLimit":300,"rowPadding":2,"titleFont":"Liberation Serif","titleFontSize":21,"titleFontWeight":"normal","titleColor":"#111","titleLineHeight":36,"titlePadding":9,"titleLimit":400}}}}
]
}
